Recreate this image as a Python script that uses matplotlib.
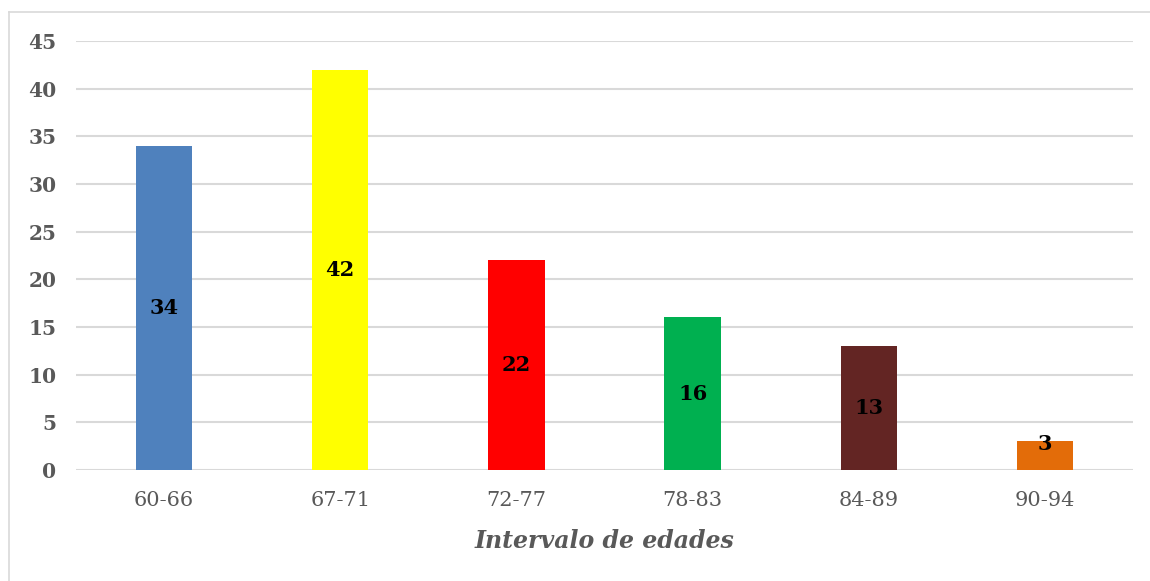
import matplotlib
matplotlib.use("Agg")
import matplotlib.pyplot as plt
from matplotlib.lines import Line2D

categories = ["60-66", "67-71", "72-77", "78-83", "84-89", "90-94"]
values = [34, 42, 22, 16, 13, 3]
colors = ["#4F81BD", "#FFFF00", "#FF0000", "#00B050", "#632523", "#E36C09"]
yticks = [0, 5, 10, 15, 20, 25, 30, 35, 40, 45]
xlabel = "Intervalo de edades"

plt.rcParams['font.family'] = ['DejaVu Serif']

fig = plt.figure(figsize=(11.5, 5.81), dpi=100)
bx, by = 9/1150, 1 - 12/581
fig.add_artist(Line2D([bx, bx], [0, by], transform=fig.transFigure, color="#D9D9D9", linewidth=1.2))
fig.add_artist(Line2D([bx, 1], [by, by], transform=fig.transFigure, color="#D9D9D9", linewidth=1.2))
ax = fig.add_axes([76/1150, 1 - 470/581, (1133-76)/1150, (470-41)/581])

x = range(len(categories))
bars = ax.bar(x, values, width=0.32, color=colors, zorder=3)
for xi, v in zip(x, values):
    ax.text(xi, v/2 if v > 5 else v - 0.3, str(v), ha="center", va="center",
            fontsize=15, fontweight="bold", color="black", zorder=4)

ax.set_xlim(-0.5, len(categories) - 0.5)
ax.set_ylim(0, 45)
ax.set_yticks(yticks)
ax.set_xticks(list(x))
ax.set_xticklabels(categories, fontsize=15, color="#595959")
ax.set_yticklabels([str(t) for t in yticks], fontsize=14.5, fontweight="bold", color="#595959")
ax.grid(axis="y", color="#D9D9D9", linewidth=1.5, zorder=0)
ax.tick_params(axis="both", length=0)
ax.tick_params(axis="x", pad=15)
ax.tick_params(axis="y", pad=14)
for s in ax.spines.values():
    s.set_visible(False)
ax.set_xlabel(xlabel, fontsize=17, fontweight="bold", fontstyle="italic", color="#595959", labelpad=14)

fig.savefig("out.png", dpi=100)
